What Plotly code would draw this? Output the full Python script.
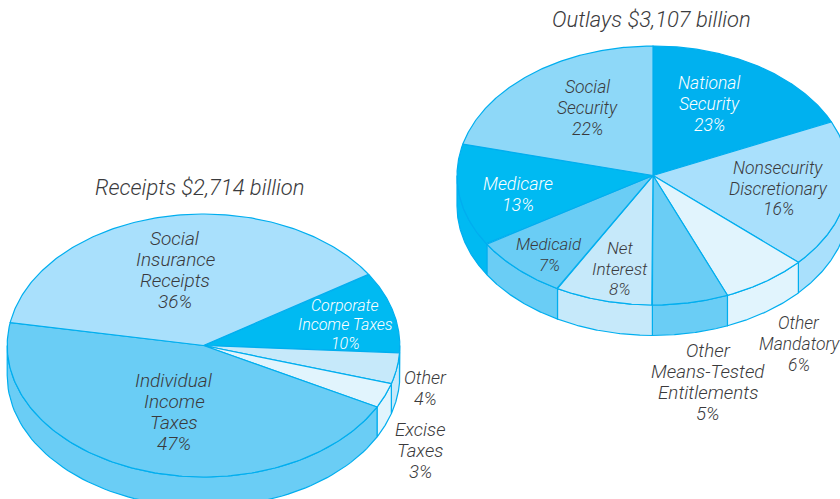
import numpy as np
import plotly.graph_objects as go

# Slices in clockwise order. Drawn shares are read off the picture (the artwork's
# wedges differ slightly from the printed percentages, which are kept as labels).
receipts_names = ["Corporate Income Taxes", "Other", "Excise Taxes", "Individual Income Taxes", "Social Insurance Receipts"]
receipts_drawn = [10.0, 3.8, 3.05, 45.05, 38.1]
receipts_pct = [10, 4, 3, 47, 36]
receipts_colors = ["#00BAF2", "#C6E9FA", "#E1F4FD", "#6ACDF5", "#A9E0FC"]

outlays_names = ["National Security", "Nonsecurity Discretionary", "Other Mandatory",
                 "Other Means-Tested Entitlements", "Net Interest", "Medicaid", "Medicare", "Social Security"]
outlays_drawn = [18.2, 18.5, 7.1, 6.25, 8.05, 8.0, 12.8, 21.1]
outlays_pct = [23, 16, 6, 5, 8, 7, 13, 22]
outlays_colors = ["#00B1EF", "#A9E0FC", "#E1F4FD", "#6ACDF5", "#C6E9FA", "#6ACDF5", "#00BAF2", "#8ED8F8"]

LINE = "#00AEEF"
TEXT = "#3A3A3C"

fig = go.Figure()


def ell(cx, cy, rx, ry, deg, drop=0.0):
    t = np.radians(deg)
    return cx + rx * np.sin(t), cy - ry * np.cos(t) + drop


def pie(names, drawn, colors, cx, cy, rx, ry, depth, start):
    edges = start + np.concatenate([[0], np.cumsum(drawn)]) * 3.6
    # side walls first
    for name, a, b, c in zip(names, edges[:-1], edges[1:], colors):
        a2, b2 = max(a, 90), min(b, 270)
        if a2 < b2:
            d = np.linspace(a2, b2, 80)
            x1, y1 = ell(cx, cy, rx, ry, d)
            x2, y2 = ell(cx, cy, rx, ry, d[::-1], depth)
            fig.add_trace(go.Scatter(x=np.r_[x1, x2, x1[0]], y=np.r_[y1, y2, y1[0]], mode="lines",
                                     fill="toself", fillcolor=c, line=dict(color=LINE, width=1.2),
                                     name=name, hoverinfo="name", showlegend=False))
    # top faces
    for name, a, b, c in zip(names, edges[:-1], edges[1:], colors):
        d = np.linspace(a, b, 160)
        x1, y1 = ell(cx, cy, rx, ry, d)
        fig.add_trace(go.Scatter(x=np.r_[cx, x1, cx], y=np.r_[cy, y1, cy], mode="lines",
                                 fill="toself", fillcolor=c, line=dict(color=LINE, width=1.2),
                                 name=name, hoverinfo="name", showlegend=False))


pie(receipts_names, receipts_drawn, receipts_colors, 203.5, 345.5, 196.3, 131.5, 30, 57.2)
pie(outlays_names, outlays_drawn, outlays_colors, 653, 175.5, 196, 129.5, 30.5, 0)

r = dict(zip(receipts_names, receipts_pct))
o = dict(zip(outlays_names, outlays_pct))
# lines, centre x, first-line y, line pitch, font size, colour
labels = [
    (["Receipts $2,714 billion"], 200, 187, 0, 22, TEXT),
    (["Outlays $3,107 billion"], 651, 19, 0, 22, TEXT),
    (["Social", "Insurance", "Receipts", f"{r['Social Insurance Receipts']}%"], 175, 238.5, 21, 19, TEXT),
    (["Corporate", "Income Taxes", f"{r['Corporate Income Taxes']}%"], 345, 305, 19, 16, "#FFFFFF"),
    (["Individual", "Income", "Taxes", f"{r['Individual Income Taxes']}%"], 174, 380.5, 21, 19, TEXT),
    (["Other", f"{r['Other']}%"], 425, 377, 21, 18, TEXT),
    (["Excise", "Taxes", f"{r['Excise Taxes']}%"], 420, 430, 21, 18.5, TEXT),
    (["National", "Security", f"{o['National Security']}%"], 709, 83, 21, 17.5, "#FFFFFF"),
    (["Social", "Security", f"{o['Social Security']}%"], 587, 87, 21, 17.5, TEXT),
    (["Nonsecurity", "Discretionary", f"{o['Nonsecurity Discretionary']}%"], 778, 168, 20.5, 17.5, TEXT),
    (["Medicare", f"{o['Medicare']}%"], 518, 183, 21, 17.8, "#FFFFFF"),
    (["Medicaid", f"{o['Medicaid']}%"], 549, 244, 21, 16.8, TEXT),
    (["Net", "Interest", f"{o['Net Interest']}%"], 620, 248, 20.5, 17.2, TEXT),
    (["Other", "Means-Tested", "Entitlements", f"{o['Other Means-Tested Entitlements']}%"], 708, 351, 21, 18.8, TEXT),
    (["Other", "Mandatory", f"{o['Other Mandatory']}%"], 799, 323, 21, 17.5, TEXT),
]
for lines, x, y0, pitch, size, color in labels:
    for i, line in enumerate(lines):
        fig.add_annotation(x=x, y=y0 + i * pitch, text=line, showarrow=False, xanchor="center", yanchor="middle",
                           font=dict(family="Roboto", size=size, color=color, style="italic", weight=300))

fig.update_layout(width=840, height=499, margin=dict(l=0, r=0, t=0, b=0), paper_bgcolor="white",
                  plot_bgcolor="white", showlegend=False,
                  xaxis=dict(range=[0, 840], visible=False, fixedrange=True),
                  yaxis=dict(range=[499, 0], visible=False, fixedrange=True))
fig.write_html("out.html", config={"displayModeBar": False},
               post_script="document.body.style.margin='0';document.documentElement.style.overflow='hidden';")
